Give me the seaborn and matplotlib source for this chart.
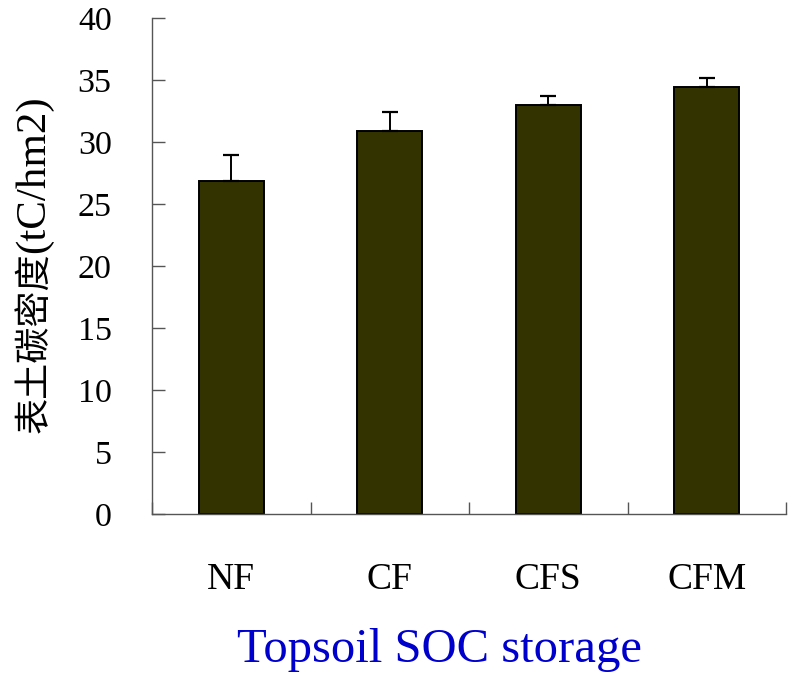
import matplotlib
matplotlib.use("Agg")
import matplotlib.pyplot as plt
import numpy as np
import pandas as pd
import seaborn as sns

# Topsoil organic carbon density by fertilisation treatment (mean and error)
treatments = ["NF", "CF", "CFS", "CFM"]
soc_density = [26.85, 30.85, 32.95, 34.4]
soc_error = [2.1, 1.6, 0.8, 0.8]
y_ticks = [0, 5, 10, 15, 20, 25, 30, 35, 40]

sns.set_theme(style="white")
plt.rcParams["font.family"] = ["Liberation Serif", "Noto Sans CJK SC"]

df = pd.DataFrame({"treatment": treatments, "soc": soc_density, "err": soc_error})

fig = plt.figure(figsize=(7.96, 6.74), dpi=100)
ax = fig.add_axes([152 / 796, 1 - 514 / 674, 634 / 796, 496 / 674])

sns.barplot(data=df, x="treatment", y="soc", color="#333300", saturation=1,
            width=0.41, edgecolor="black", linewidth=1.4, errorbar=None, ax=ax)

pos = np.arange(len(treatments))
ax.errorbar(pos, df["soc"], yerr=[np.zeros(len(pos)), df["err"]], fmt="none",
            ecolor="black", elinewidth=1.4, capsize=6, capthick=1.6, zorder=3)

ax.set_xlim(-0.5, len(treatments) - 0.5)
ax.set_ylim(0, 40)
ax.set_yticks(y_ticks)
ax.set_yticklabels([str(t) for t in y_ticks])

for side in ("top", "right"):
    ax.spines[side].set_visible(False)
for side in ("left", "bottom"):
    ax.spines[side].set_color("#555555")
    ax.spines[side].set_linewidth(1.0)

# category separators as inward minor ticks on the x axis
ax.set_xticks(np.arange(-0.5, len(treatments)), minor=True)
ax.tick_params(axis="x", which="minor", direction="in", length=9, width=1.0,
               color="#555555", bottom=True)
ax.tick_params(axis="x", which="major", length=0, pad=35, labelsize=27,
               labelcolor="black")
ax.tick_params(axis="y", which="major", direction="in", length=9.5, width=1.0,
               color="#555555", pad=29, labelsize=24.5, labelcolor="black", left=True)

ax.set_xlabel("")
ax.set_ylabel("")

# y-axis title: Chinese part and unit part
fig.text(34 / 796, 1 - 343 / 674, "表土碳密度", rotation=90, ha="center", va="center",
         fontsize=26, family=["Noto Sans CJK SC", "DejaVu Sans"], color="black")
fig.text(34 / 796, 1 - 174 / 674, "(tC/hm2)", rotation=90, ha="center", va="center",
         fontsize=31, family=["Liberation Serif"], color="black")

fig.text(439 / 796, 1 - 662 / 674, "Topsoil SOC storage", ha="center", va="baseline",
         fontsize=35, color="#0000CC", family=["Liberation Serif"])

fig.savefig("out.png", dpi=100)
